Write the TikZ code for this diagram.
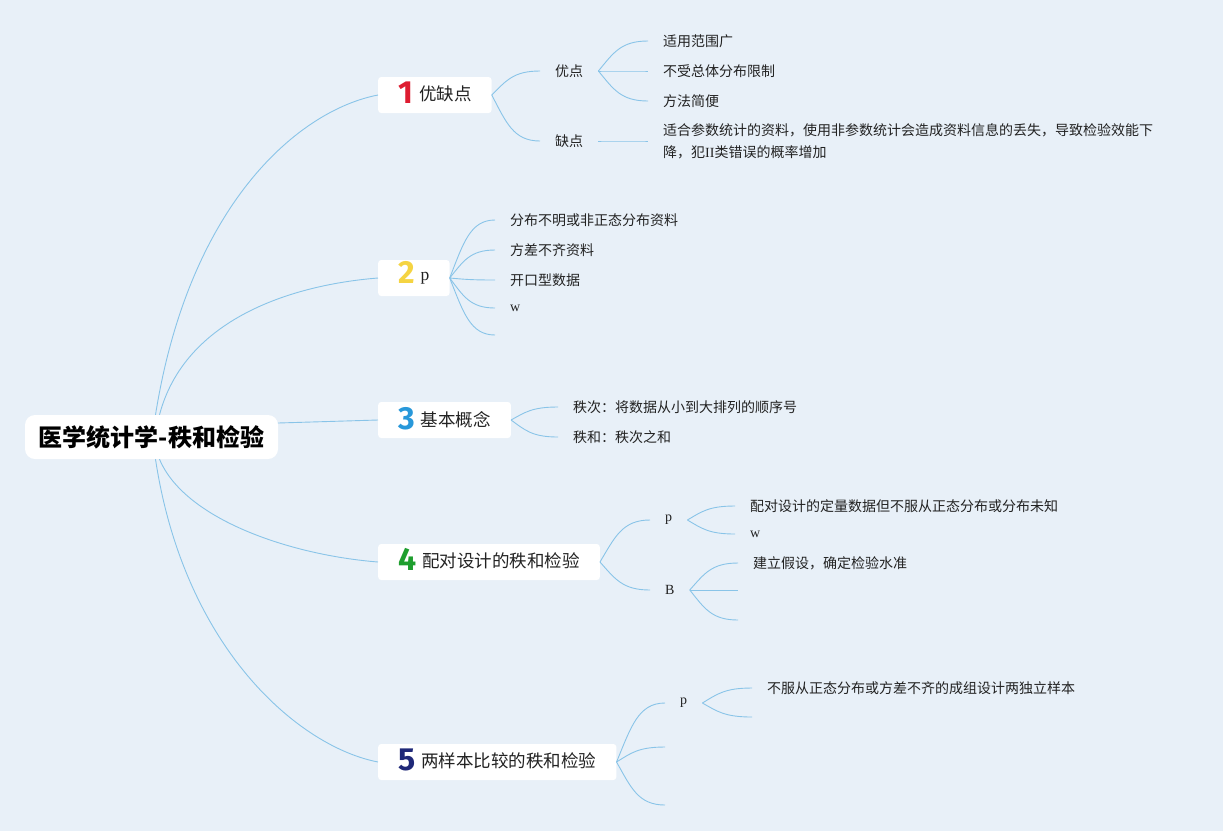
\documentclass[tikz,border=0pt]{standalone}
\usepackage{fontspec}
\setmainfont{Liberation Serif}
\newfontfamily\cjk{Noto Sans CJK SC}
\newfontfamily\numfont{Fira Sans}
\usetikzlibrary{calc, positioning}
\definecolor{bgblue}{RGB}{232,240,248}
\definecolor{linkblue}{RGB}{137,196,232}
\definecolor{ink}{RGB}{34,34,34}
\definecolor{numred}{RGB}{222,28,48}
\definecolor{numyellow}{RGB}{245,212,66}
\definecolor{numblue}{RGB}{40,152,218}
\definecolor{numgreen}{RGB}{30,158,46}
\definecolor{numnavy}{RGB}{31,40,120}
\newcommand{\topicnum}[2]{\raisebox{-3pt}{\smash{\numfont\bfseries\fontsize{32}{32}\selectfont\color{#1}#2}}\hspace{6pt}}

\begin{document}
\begin{tikzpicture}[
    x=1pt, y=-1pt,
    root/.style={fill=white, rounded corners=10pt, minimum width=253pt, minimum height=44pt, font=\cjk\bfseries\fontsize{24}{28}\selectfont, text=black},
    topic/.style={fill=white, rounded corners=3pt, minimum height=36pt, inner xsep=20pt, anchor=west, font=\cjk\fontsize{17.5}{20}\selectfont, text=ink},
    sub/.style={inner xsep=15pt, inner ysep=2pt, anchor=west, font=\cjk\fontsize{14}{16}\selectfont, text=ink},
    leaf/.style={sub, align=left, font=\cjk\fontsize{14}{22}\selectfont},
    link/.style={draw=linkblue, line width=0.9pt},
    fan/.style={link, to path={let \p1=($(\tikztotarget)-(\tikztostart)$) in
        .. controls ($(\tikztostart)+(0.3*\x1,0.6*\y1)$) and ($(\tikztotarget)-(0.55*\x1,0pt)$) .. (\tikztotarget)}},
]
    \fill[bgblue] (0,0) rectangle (1223,831);
    \useasboundingbox (0,0) rectangle (1223,831);

    \node[root] (root) at (151.5,437) {医学统计学-秩和检验};

    \node[topic] (t1) at (378,95) {\topicnum{numred}{1}优缺点};
    \node[topic] (t2) at (378,278) {\topicnum{numyellow}{2}{\rmfamily p}};
    \node[topic] (t3) at (378,420) {\topicnum{numblue}{3}基本概念};
    \node[topic] (t4) at (378,562) {\topicnum{numgreen}{4}配对设计的秩和检验};
    \node[topic] (t5) at (378,762) {\topicnum{numnavy}{5}两样本比较的秩和检验};

    \draw[link] ([xshift=4pt]root.north) .. controls +(34,-213) and +(-78,15) .. (t1.west);
    \draw[link] ([xshift=8pt]root.north) .. controls +(25,-95) and +(-88,7) .. (t2.west);
    \draw[link] ([yshift=14pt]root.east) -- (t3.west);
    \draw[link] ([xshift=8pt]root.south) .. controls +(25,60) and +(-88,-7) .. (t4.west);
    \draw[link] ([xshift=4pt]root.south) .. controls +(29,191) and +(-78,-15) .. (t5.west);

    % 1
    \node[sub] (s11) at (540,71) {优点};
    \node[sub] (s12) at (540,141) {缺点};
    \draw[fan] (t1.east) to (s11.west);
    \draw[fan] (t1.east) to (s12.west);
    \foreach \y/\txt [count=\i] in {41/适用范围广, 71/不受总体分布限制, 101/方法简便} {
        \node[leaf] (l1\i) at (648,\y) {\txt};
        \draw[fan] (s11.east) to (l1\i.west);
    }
    \node[leaf] (l21) at (648,141) {适合参数统计的资料，使用非参数统计会造成资料信息的丢失，导致检验效能下\\降，犯{\rmfamily II}类错误的概率增加};
    \draw[fan] (s12.east) to (l21.west);

    % 2
    \foreach \y/\txt [count=\i] in {220/分布不明或非正态分布资料, 250/方差不齐资料, 280/开口型数据, 308/{\rmfamily w}} {
        \node[leaf] (m\i) at (495,\y) {\txt};
        \draw[fan] (t2.east) to (m\i.west);
    }
    \coordinate (m5) at (495,335);
    \draw[fan] (t2.east) to (m5);

    % 3
    \node[leaf] (k1) at (558,407) {秩次：将数据从小到大排列的顺序号};
    \node[leaf] (k2) at (558,437) {秩和：秩次之和};
    \draw[fan] (t3.east) to (k1.west);
    \draw[fan] (t3.east) to (k2.west);

    % 4
    \node[sub] (s41) at (650,520) {\rmfamily p};
    \node[sub] (s42) at (650,590) {\rmfamily B};
    \draw[fan] (t4.east) to (s41.west);
    \draw[fan] (t4.east) to (s42.west);
    \node[leaf] (p1) at (735,506) {配对设计的定量数据但不服从正态分布或分布未知};
    \node[leaf] (p2) at (735,534) {\rmfamily w};
    \draw[fan] (s41.east) to (p1.west);
    \draw[fan] (s41.east) to (p2.west);
    \node[leaf] (b1) at (738,563) {建立假设，确定检验水准};
    \coordinate (b2) at (738,590);
    \coordinate (b3) at (738,620);
    \draw[fan] (s42.east) to (b1.west);
    \draw[fan] (s42.east) to (b2);
    \draw[fan] (s42.east) to (b3);

    % 5
    \node[sub] (s51) at (665,703) {\rmfamily p};
    \coordinate (s52) at (665,747);
    \coordinate (s53) at (665,805);
    \draw[fan] (t5.east) to (s51.west);
    \draw[fan] (t5.east) to (s52);
    \draw[fan] (t5.east) to (s53);
    \node[leaf] (q1) at (752,688) {不服从正态分布或方差不齐的成组设计两独立样本};
    \coordinate (q2) at (752,717);
    \draw[fan] (s51.east) to (q1.west);
    \draw[fan] (s51.east) to (q2);
\end{tikzpicture}
\end{document}
